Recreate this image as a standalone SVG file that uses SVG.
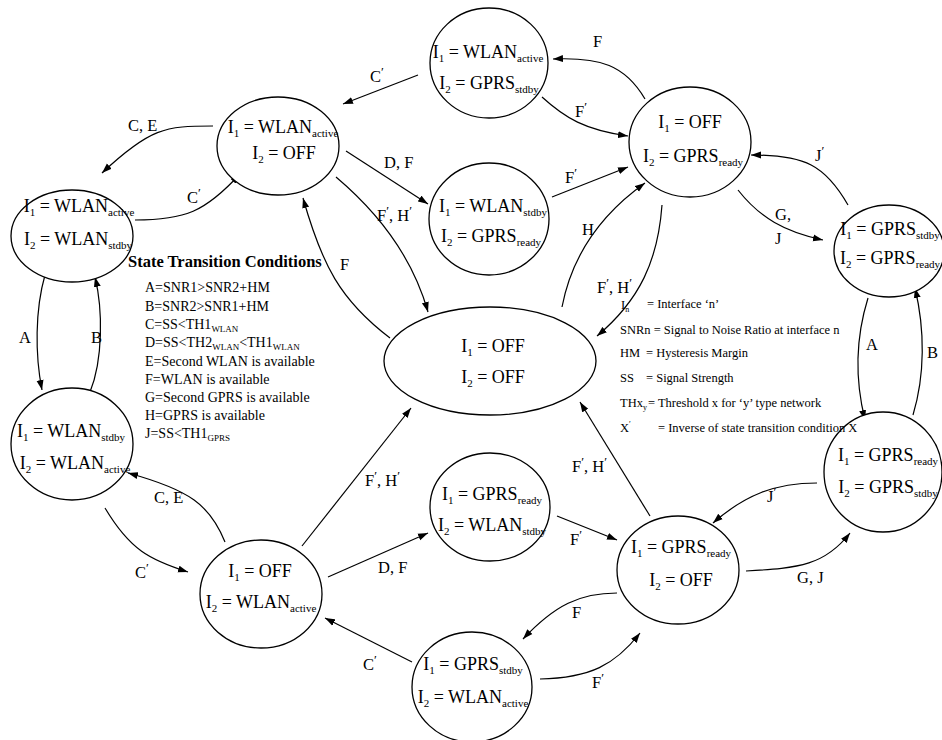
<svg xmlns="http://www.w3.org/2000/svg" width="942" height="740" viewBox="0 0 942 740">
  <style>
    text { font-family: "Liberation Serif", "Times New Roman", serif; fill: #000; }
    .st { fill: #fff; stroke: #000; stroke-width: 1.3; }
    .nt { font-size: 18px; text-anchor: middle; }
    .s { font-size: 11px; }
    .lb { font-size: 16.5px; }
    .pr { font-size: 13px; }
    .edge { fill: none; stroke: #000; stroke-width: 1.2; marker-end: url(#ah); }
    .cond { font-size: 14px; }
    .cs { font-size: 9px; }
    .leg { font-size: 12.5px; }
    .ls { font-size: 8px; }
    .hd { font-size: 16.5px; font-weight: bold; }
  </style>
  <defs>
    <marker id="ah" viewBox="0 0 10 8" refX="10" refY="4" markerWidth="10" markerHeight="8" markerUnits="userSpaceOnUse" orient="auto">
      <path d="M0,0.5 L10,4 L0,7.5 z" fill="#000"/>
    </marker>
  </defs>
  <rect width="942" height="740" fill="#fff"/>

  <!-- connectors -->
  <g id="connectors">
    <path class="edge" d="M418,75 L343,104"/>
    <path class="edge" d="M645,99 C625,65 600,57 553,59"/>
    <path class="edge" d="M542,97 C565,118 585,130 628,136"/>
    <path class="edge" d="M213,126 C165,126 150,128 102,173"/>
    <path class="edge" d="M135,220 C185,220 205,212 240,174"/>
    <path class="edge" d="M346,151 L428,204"/>
    <path class="edge" d="M552,197 L628,167"/>
    <path class="edge" d="M336,177 C375,210 412,255 428,312"/>
    <path class="edge" d="M390,338 C340,300 322,265 303,198"/>
    <path class="edge" d="M562,307 C572,255 600,215 645,183"/>
    <path class="edge" d="M662,205 C658,260 640,300 597,336"/>
    <path class="edge" d="M738,190 C760,218 785,232 823,240"/>
    <path class="edge" d="M848,205 C825,165 805,155 751,155"/>
    <path class="edge" d="M868,298 C855,340 855,380 865,420"/>
    <path class="edge" d="M913,415 C925,375 925,330 915,288"/>
    <path class="edge" d="M817,483 C775,483 745,495 713,523"/>
    <path class="edge" d="M746,571 C800,568 825,565 850,533"/>
    <path class="edge" d="M650,516 L580,402"/>
    <path class="edge" d="M557,516 L617,540"/>
    <path class="edge" d="M328,577 L428,533"/>
    <path class="edge" d="M302,546 L411,408"/>
    <path class="edge" d="M412,662 L325,618"/>
    <path class="edge" d="M617,593 C580,593 555,605 523,639"/>
    <path class="edge" d="M540,679 C590,678 615,665 640,633"/>
    <path class="edge" d="M225,542 C210,505 190,490 128,473"/>
    <path class="edge" d="M105,508 C130,550 150,560 188,572"/>
    <path class="edge" d="M45,275 C35,310 35,355 42,390"/>
    <path class="edge" d="M90,392 C103,360 103,310 95,277"/>

    <!-- transition labels -->
    <text class="lb" x="370" y="82">C<tspan class="pr" dy="-6">′</tspan></text>
    <text class="lb" x="593" y="47">F</text>
    <text class="lb" x="575" y="117">F<tspan class="pr" dy="-6">′</tspan></text>
    <text class="lb" x="128" y="131">C, E</text>
    <text class="lb" x="187" y="203">C<tspan class="pr" dy="-6">′</tspan></text>
    <text class="lb" x="384" y="168">D, F</text>
    <text class="lb" x="565" y="183">F<tspan class="pr" dy="-6">′</tspan></text>
    <text class="lb" x="377" y="221">F<tspan class="pr" dy="-6">′</tspan><tspan dy="6">, H</tspan><tspan class="pr" dy="-6">′</tspan></text>
    <text class="lb" x="340" y="270">F</text>
    <text class="lb" x="582" y="235">H</text>
    <text class="lb" x="597" y="293">F<tspan class="pr" dy="-6">′</tspan><tspan dy="6">, H</tspan><tspan class="pr" dy="-6">′</tspan></text>
    <text class="lb" x="775" y="220">G,</text>
    <text class="lb" x="775" y="244">J</text>
    <text class="lb" x="815" y="161">J<tspan class="pr" dy="-6">′</tspan></text>
    <text class="lb" x="866" y="350">A</text>
    <text class="lb" x="927" y="358">B</text>
    <text class="lb" x="767" y="502">J<tspan class="pr" dy="-6">′</tspan></text>
    <text class="lb" x="797" y="583">G, J</text>
    <text class="lb" x="572" y="472">F<tspan class="pr" dy="-6">′</tspan><tspan dy="6">, H</tspan><tspan class="pr" dy="-6">′</tspan></text>
    <text class="lb" x="570" y="545">F<tspan class="pr" dy="-6">′</tspan></text>
    <text class="lb" x="378" y="573">D, F</text>
    <text class="lb" x="365" y="486">F<tspan class="pr" dy="-6">′</tspan><tspan dy="6">, H</tspan><tspan class="pr" dy="-6">′</tspan></text>
    <text class="lb" x="363" y="670">C<tspan class="pr" dy="-6">′</tspan></text>
    <text class="lb" x="572" y="618">F</text>
    <text class="lb" x="592" y="688">F<tspan class="pr" dy="-6">′</tspan></text>
    <text class="lb" x="154" y="503">C, E</text>
    <text class="lb" x="135" y="578">C<tspan class="pr" dy="-6">′</tspan></text>
    <text class="lb" x="19" y="343">A</text>
    <text class="lb" x="91" y="343">B</text>
  </g>

  <!-- states -->
  <g id="s-wlanact-gprsstdby">
    <ellipse class="st" cx="489" cy="63" rx="59" ry="55"/>
    <text class="nt" x="488" y="58">I<tspan class="s" dy="4">1</tspan><tspan dy="-4"> = WLAN</tspan><tspan class="s" dy="4">active</tspan></text>
    <text class="nt" x="489" y="89">I<tspan class="s" dy="4">2</tspan><tspan dy="-4"> = GPRS</tspan><tspan class="s" dy="4">stdby</tspan></text>
  </g>
  <g id="s-wlanact-off">
    <ellipse class="st" cx="278" cy="146" rx="61" ry="49"/>
    <text class="nt" x="283" y="133">I<tspan class="s" dy="4">1</tspan><tspan dy="-4"> = WLAN</tspan><tspan class="s" dy="4">active</tspan></text>
    <text class="nt" x="284" y="159">I<tspan class="s" dy="4">2</tspan><tspan dy="-4"> = OFF</tspan></text>
  </g>
  <g id="s-wlanact-wlanstdby">
    <ellipse class="st" cx="72" cy="236" rx="61" ry="46"/>
    <text class="nt" x="79" y="212">I<tspan class="s" dy="4">1</tspan><tspan dy="-4"> = WLAN</tspan><tspan class="s" dy="4">active</tspan></text>
    <text class="nt" x="78" y="245">I<tspan class="s" dy="4">2</tspan><tspan dy="-4"> = WLAN</tspan><tspan class="s" dy="4">stdby</tspan></text>
  </g>
  <g id="s-wlanstdby-wlanact">
    <ellipse class="st" cx="72" cy="444" rx="61" ry="56"/>
    <text class="nt" x="71" y="437">I<tspan class="s" dy="4">1</tspan><tspan dy="-4"> = WLAN</tspan><tspan class="s" dy="4">stdby</tspan></text>
    <text class="nt" x="75" y="469">I<tspan class="s" dy="4">2</tspan><tspan dy="-4"> = WLAN</tspan><tspan class="s" dy="4">active</tspan></text>
  </g>
  <g id="s-off-off">
    <ellipse class="st" cx="490" cy="361" rx="106" ry="54"/>
    <text class="nt" x="493" y="352">I<tspan class="s" dy="4">1</tspan><tspan dy="-4"> = OFF</tspan></text>
    <text class="nt" x="493" y="383">I<tspan class="s" dy="4">2</tspan><tspan dy="-4"> = OFF</tspan></text>
  </g>
  <g id="s-wlanstdby-gprsready">
    <ellipse class="st" cx="489" cy="219" rx="60" ry="56"/>
    <text class="nt" x="493" y="212">I<tspan class="s" dy="4">1</tspan><tspan dy="-4"> = WLAN</tspan><tspan class="s" dy="4">stdby</tspan></text>
    <text class="nt" x="491" y="242">I<tspan class="s" dy="4">2</tspan><tspan dy="-4"> = GPRS</tspan><tspan class="s" dy="4">ready</tspan></text>
  </g>
  <g id="s-off-gprsready">
    <ellipse class="st" cx="690" cy="142" rx="61" ry="55"/>
    <text class="nt" x="690" y="128">I<tspan class="s" dy="4">1</tspan><tspan dy="-4"> = OFF</tspan></text>
    <text class="nt" x="693" y="162">I<tspan class="s" dy="4">2</tspan><tspan dy="-4"> = GPRS</tspan><tspan class="s" dy="4">ready</tspan></text>
  </g>
  <g id="s-gprsstdby-gprsready">
    <ellipse class="st" cx="889" cy="251" rx="55" ry="46"/>
    <text class="nt" x="890" y="235">I<tspan class="s" dy="4">1</tspan><tspan dy="-4"> = GPRS</tspan><tspan class="s" dy="4">stdby</tspan></text>
    <text class="nt" x="890" y="264">I<tspan class="s" dy="4">2</tspan><tspan dy="-4"> = GPRS</tspan><tspan class="s" dy="4">ready</tspan></text>
  </g>
  <g id="s-gprsready-gprsstdby">
    <ellipse class="st" cx="883" cy="472" rx="59" ry="60"/>
    <text class="nt" x="888" y="461">I<tspan class="s" dy="4">1</tspan><tspan dy="-4"> = GPRS</tspan><tspan class="s" dy="4">ready</tspan></text>
    <text class="nt" x="888" y="493">I<tspan class="s" dy="4">2</tspan><tspan dy="-4"> = GPRS</tspan><tspan class="s" dy="4">stdby</tspan></text>
  </g>
  <g id="s-gprsready-off">
    <ellipse class="st" cx="678" cy="570" rx="61" ry="54"/>
    <text class="nt" x="681" y="553">I<tspan class="s" dy="4">1</tspan><tspan dy="-4"> = GPRS</tspan><tspan class="s" dy="4">ready</tspan></text>
    <text class="nt" x="681" y="586">I<tspan class="s" dy="4">2</tspan><tspan dy="-4"> = OFF</tspan></text>
  </g>
  <g id="s-gprsready-wlanstdby">
    <ellipse class="st" cx="490" cy="507" rx="60" ry="54"/>
    <text class="nt" x="492" y="500">I<tspan class="s" dy="4">1</tspan><tspan dy="-4"> = GPRS</tspan><tspan class="s" dy="4">ready</tspan></text>
    <text class="nt" x="492" y="531">I<tspan class="s" dy="4">2</tspan><tspan dy="-4"> = WLAN</tspan><tspan class="s" dy="4">stdby</tspan></text>
  </g>
  <g id="s-off-wlanact">
    <ellipse class="st" cx="261" cy="594" rx="61" ry="54"/>
    <text class="nt" x="260" y="577">I<tspan class="s" dy="4">1</tspan><tspan dy="-4"> = OFF</tspan></text>
    <text class="nt" x="261" y="608">I<tspan class="s" dy="4">2</tspan><tspan dy="-4"> = WLAN</tspan><tspan class="s" dy="4">active</tspan></text>
  </g>
  <g id="s-gprsstdby-wlanact">
    <ellipse class="st" cx="472" cy="687" rx="60" ry="55"/>
    <text class="nt" x="473" y="670">I<tspan class="s" dy="4">1</tspan><tspan dy="-4"> = GPRS</tspan><tspan class="s" dy="4">stdby</tspan></text>
    <text class="nt" x="473" y="703">I<tspan class="s" dy="4">2</tspan><tspan dy="-4"> = WLAN</tspan><tspan class="s" dy="4">active</tspan></text>
  </g>

  <!-- transition condition list -->
  <g id="conditions">
    <text class="hd" x="128" y="267">State Transition Conditions</text>
    <text class="cond" x="145" y="292">A=SNR1&gt;SNR2+HM</text>
    <text class="cond" x="145" y="311">B=SNR2&gt;SNR1+HM</text>
    <text class="cond" x="145" y="329">C=SS&lt;TH1<tspan class="cs" dy="3">WLAN</tspan></text>
    <text class="cond" x="145" y="347">D=SS&lt;TH2<tspan class="cs" dy="3">WLAN</tspan><tspan dy="-3">&lt;TH1</tspan><tspan class="cs" dy="3">WLAN</tspan></text>
    <text class="cond" x="145" y="366">E=Second WLAN is available</text>
    <text class="cond" x="145" y="384">F=WLAN is available</text>
    <text class="cond" x="145" y="402">G=Second GPRS is available</text>
    <text class="cond" x="145" y="420">H=GPRS is available</text>
    <text class="cond" x="145" y="438">J=SS&lt;TH1<tspan class="cs" dy="3">GPRS</tspan></text>
  </g>

  <!-- symbol legend -->
  <g id="legend">
    <text class="leg" x="621" y="309">I<tspan class="ls" dy="3">n</tspan></text>
    <text class="leg" x="647" y="308">= Interface ‘n’</text>
    <text class="leg" x="620" y="334">SNRn = Signal to Noise Ratio at interface n</text>
    <text class="leg" x="620" y="357">HM</text>
    <text class="leg" x="646" y="357">= Hysteresis Margin</text>
    <text class="leg" x="620" y="382">SS</text>
    <text class="leg" x="646" y="382">= Signal Strength</text>
    <text class="leg" x="620" y="407">THx<tspan class="ls" dy="3">y</tspan></text>
    <text class="leg" x="648" y="407">= Threshold x for ‘y’ type network</text>
    <text class="leg" x="620" y="432">X<tspan class="ls" dy="-5">′</tspan></text>
    <text class="leg" x="658" y="432">= Inverse of state transition condition X</text>
  </g>
</svg>
